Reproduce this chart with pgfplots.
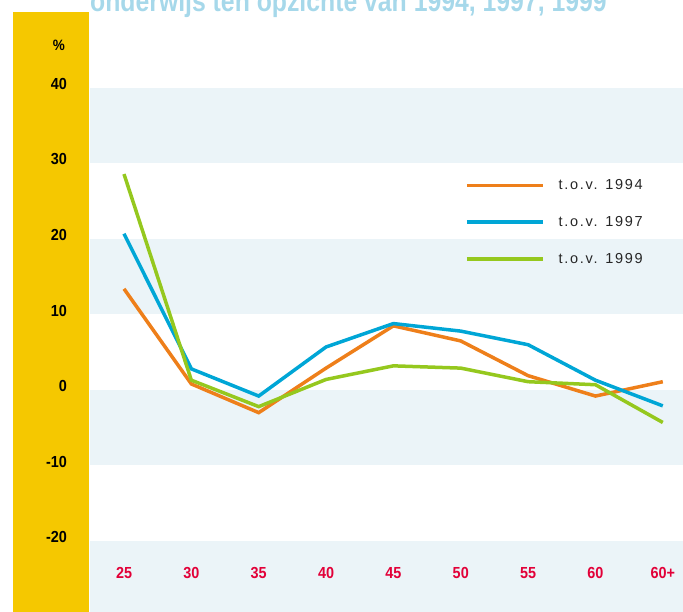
\documentclass[border=0pt]{standalone}
\usepackage{fontspec}
\setmainfont{Liberation Sans}
\newfontfamily\condbold[FakeStretch=0.9]{Liberation Sans Bold}
\newfontfamily\legfont[LetterSpace=12]{Liberation Sans}
\newfontfamily\titlefont[FakeStretch=0.84]{Liberation Sans Bold}
\usepackage{pgfplots}
\pgfplotsset{compat=1.18}
\definecolor{corange}{RGB}{238,127,26}
\definecolor{cblue}{RGB}{0,166,214}
\definecolor{cgreen}{RGB}{149,200,30}
\definecolor{cyellow}{RGB}{245,200,0}
\definecolor{cband}{RGB}{235,244,248}
\definecolor{cred}{RGB}{226,0,56}
\definecolor{ctitle}{RGB}{166,216,234}
\begin{document}
\begin{tikzpicture}[x=1pt,y=1pt]
\fill[cyellow] (13,0) rectangle (89,600);
\fill[cband] (90,448.5) rectangle (683,524);
\fill[cband] (90,297.5) rectangle (683,373);
\fill[cband] (90,146.5) rectangle (683,222);
\fill[cband] (90,0) rectangle (683,71);
\node[anchor=base west, font=\titlefont\fontsize{29.5}{29.5}\selectfont, text=ctitle, inner sep=0pt] at (90,600) {onderwijs ten opzichte van 1994, 1997, 1999};
\node[font=\condbold\fontsize{15}{15}\selectfont, anchor=base east, inner sep=0pt] at (65,561) {\%};
\begin{axis}[
  at={(90pt,0pt)}, anchor=south west,
  scale only axis, width=593pt, height=524pt,
  xmin=-0.505, xmax=8.3, ymin=-29.4, ymax=40,
  axis line style={draw=none},
  major tick length=0pt,
  ytick={-20,-10,0,10,20,30,40},
  yticklabels={-20,-10,0,10,20,30,40},
  yticklabel style={font=\condbold\fontsize{16}{16}\selectfont, text=black, anchor=east, xshift=-19.5pt, yshift=4pt},
  xtick={0,1,2,3,4,5,6,7,8},
  xticklabels={25,30,35,40,45,50,55,60,60+},
  xticklabel style={font=\condbold\fontsize{16}{16}\selectfont, text=cred, anchor=center, yshift=39pt},
  clip=true,
  legend cell align=left,
  legend image code/.code={\draw[#1, line width=3.5pt] (0pt,0pt) -- (76pt,0pt);},
  legend style={draw=none, fill=none, at={(0.627,0.831)}, anchor=north west,
    font=\legfont\fontsize{14.5}{14.5}\selectfont, row sep=23pt,
    /tikz/every odd column/.append style={column sep=13pt},
    nodes={inner sep=1pt, text=black!85}},
]
\addplot[corange, line width=3.5pt] coordinates {(0,13.4) (1,0.8) (2,-3.0) (3,2.9) (4,8.5) (5,6.5) (6,1.9) (7,-0.8) (8,1.1)};
\addlegendentry{t.o.v. 1994}
\addplot[cblue, line width=3.5pt] coordinates {(0,20.7) (1,2.8) (2,-0.8) (3,5.7) (4,8.8) (5,7.8) (6,6.0) (7,1.3) (8,-2.1)};
\addlegendentry{t.o.v. 1997}
\addplot[cgreen, line width=3.5pt] coordinates {(0,28.6) (1,1.3) (2,-2.2) (3,1.4) (4,3.2) (5,2.9) (6,1.1) (7,0.7) (8,-4.3)};
\addlegendentry{t.o.v. 1999}
\end{axis}
\pgfresetboundingbox
\path[use as bounding box] (0,0) rectangle (683,612);
\end{tikzpicture}
\end{document}
